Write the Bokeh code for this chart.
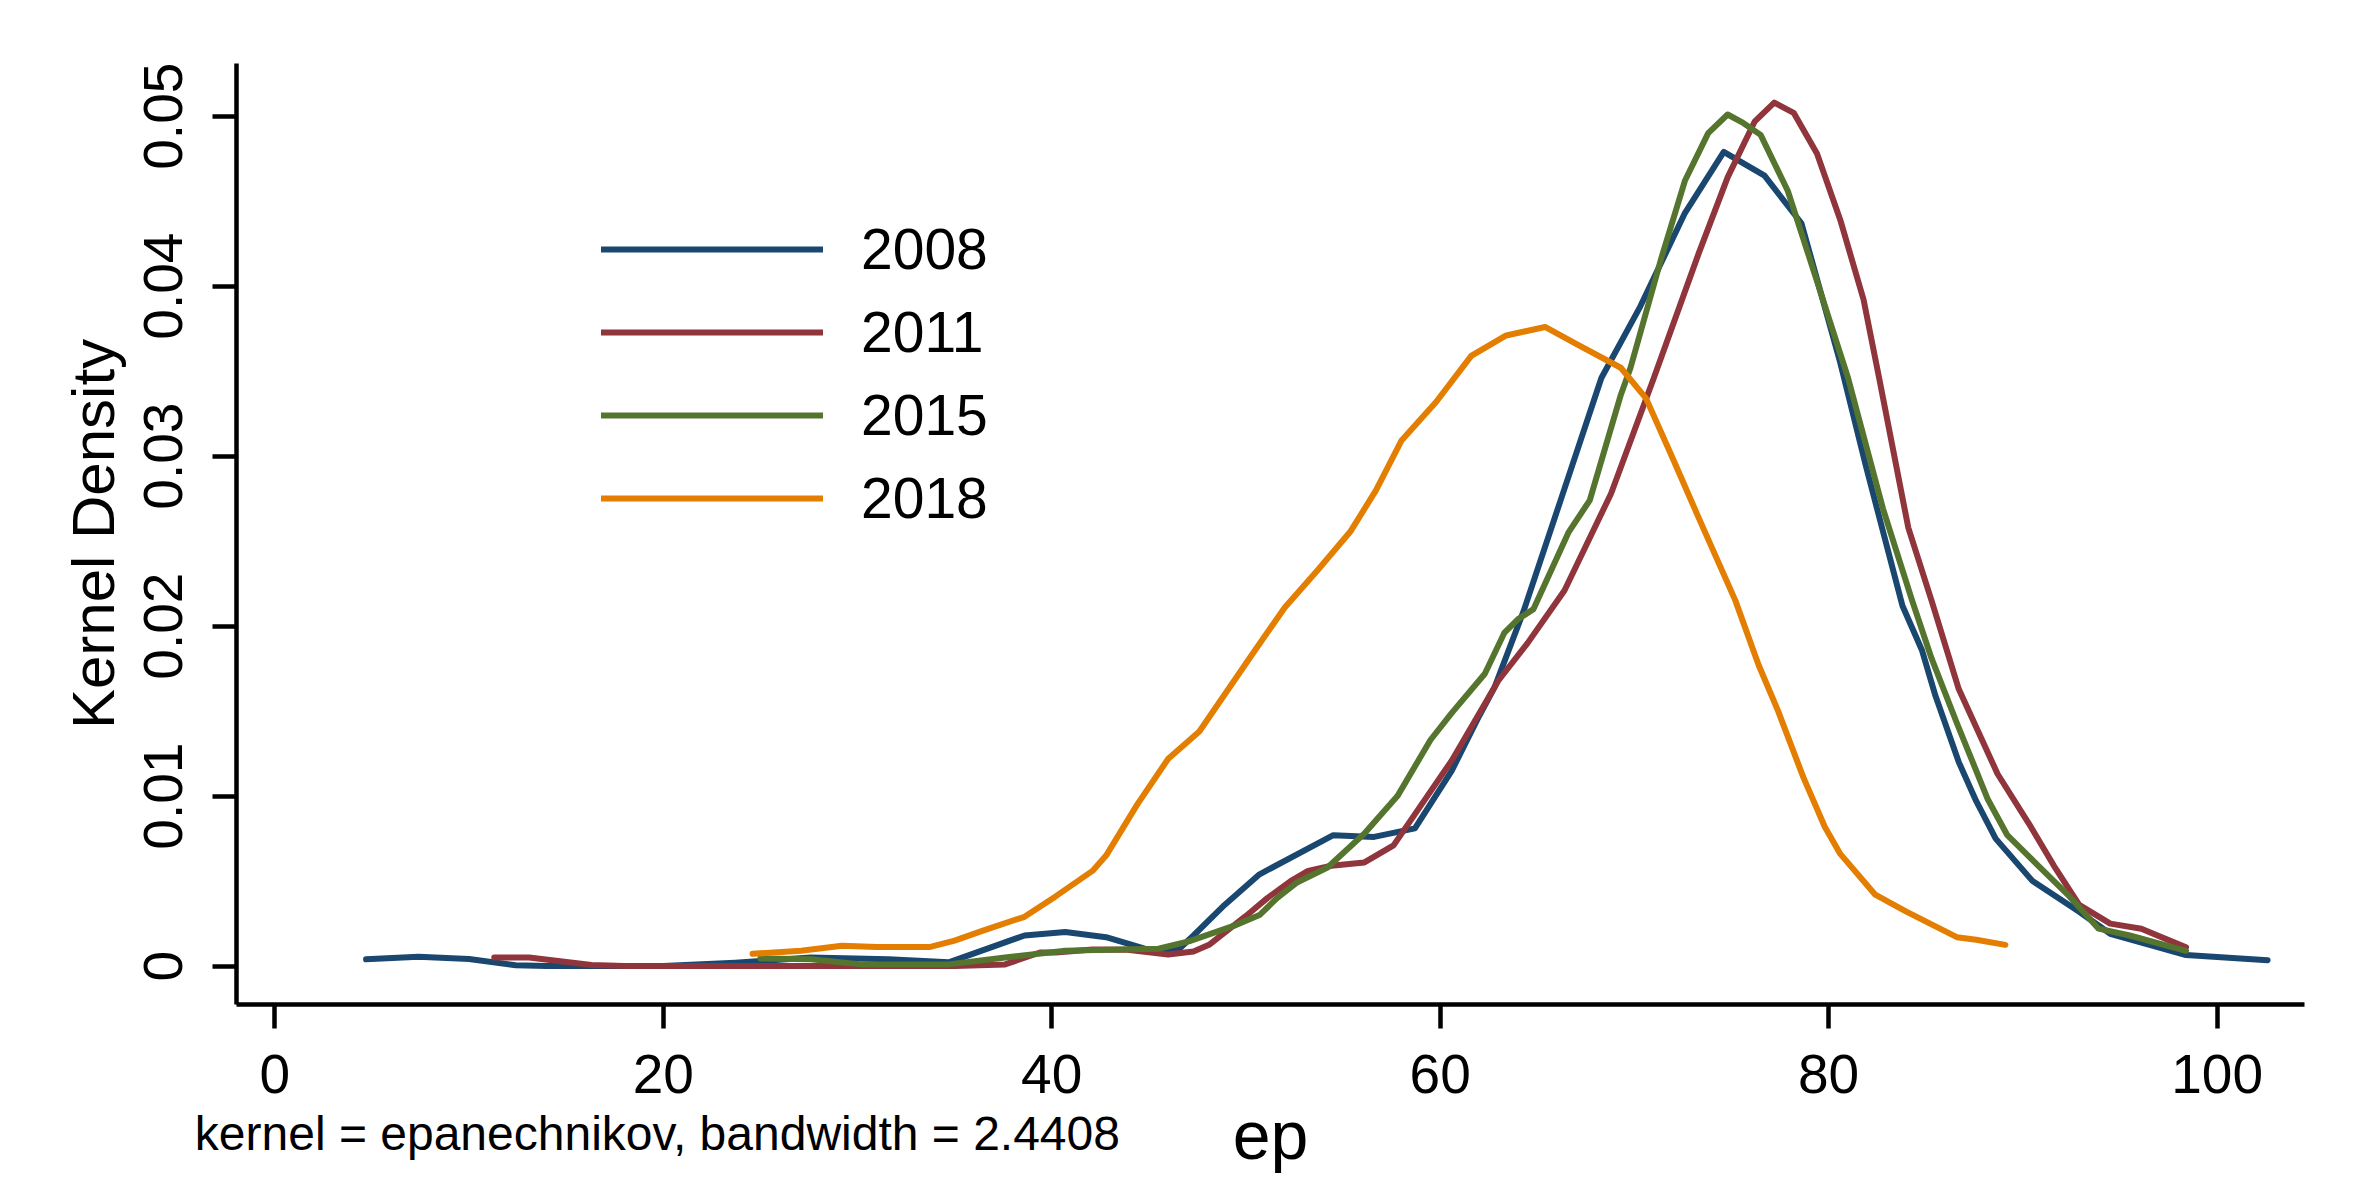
from bokeh.plotting import figure
from bokeh.models import Range1d, FixedTicker, CustomJSTickFormatter, Legend, LegendItem, LinearAxis
from bokeh.embed import file_html
from bokeh.resources import INLINE

FONT = "Liberation Sans"

years = ["2008", "2011", "2015", "2018"]
colors = ["#1a476f", "#90353b", "#55752f", "#e37e00"]

x_ticks = [0, 20, 40, 60, 80, 100]
y_ticks = [0, 0.01, 0.02, 0.03, 0.04, 0.05]
note_text = "kernel = epanechnikov, bandwidth = 2.4408"

ep_2008 = [4.7, 7.4, 10.0, 12.4, 14.0, 20.0, 23.7, 27.6, 31.6, 34.7, 38.6, 40.7, 42.8, 45.0,
           46.5, 47.3, 48.9, 50.7, 54.5, 56.6, 58.7, 60.6, 62.0, 62.8, 64.3, 66.2, 68.3,
           70.3, 72.6, 74.6, 76.7, 78.6, 80.6, 81.9, 83.8, 84.8, 85.5, 86.7, 87.6, 88.6,
           90.5, 92.9, 94.5, 98.4, 102.6]
den_2008 = [0.0004, 0.00055, 0.00042, 0.00005, 0.0, 0.0, 0.0002, 0.0005, 0.0004, 0.00022,
            0.0018, 0.0020, 0.0017, 0.00095, 0.00095, 0.0018, 0.0036, 0.0054, 0.0077, 0.0076,
            0.0081, 0.0115, 0.0147, 0.0164, 0.0209, 0.0274, 0.0346, 0.0388, 0.0443, 0.0479,
            0.0465, 0.0437, 0.0355, 0.0295, 0.0212, 0.0186, 0.0159, 0.0120, 0.0097, 0.0075,
            0.0050, 0.0032, 0.0019, 0.00065, 0.00035]

ep_2011 = [11.3, 13.1, 16.3, 18.0, 35.0, 37.6, 39.4, 40.2, 42.1, 43.9, 46.0, 47.3, 48.1,
           50.0, 51.1, 52.3, 53.2, 54.4, 56.1, 57.6, 58.5, 60.6, 63.0, 64.5, 66.4, 68.8,
           71.0, 73.3, 74.8, 76.2, 77.2, 78.2, 79.4, 80.6, 81.8, 82.6, 84.1, 85.3, 86.7,
           88.7, 90.3, 91.6, 92.9, 94.5, 96.1, 98.4]
den_2011 = [0.0005, 0.0005, 0.00006, 0.0, 0.0, 0.0001, 0.0008, 0.0008, 0.00098, 0.00096,
            0.00068, 0.00086, 0.00125, 0.00295, 0.0040, 0.0050, 0.0056, 0.0059, 0.0061,
            0.0071, 0.0086, 0.0121, 0.0168, 0.0190, 0.0221, 0.0278, 0.0346, 0.0419, 0.0464,
            0.0497, 0.0508, 0.0502, 0.0478, 0.0439, 0.0392, 0.0346, 0.0258, 0.0215, 0.0163,
            0.0113, 0.0084, 0.0059, 0.0036, 0.0025, 0.0022, 0.0011]

ep_2015 = [25.0, 27.6, 30.2, 34.7, 37.6, 40.7, 42.8, 45.5, 47.1, 49.4, 50.7, 51.6, 52.6,
           54.2, 56.1, 57.8, 59.5, 60.6, 62.3, 63.3, 64.0, 64.8, 66.6, 67.7, 69.3, 69.8,
           71.4, 72.6, 73.8, 74.8, 75.6, 76.5, 77.9, 79.4, 81.0, 82.8, 84.3, 85.3, 86.6,
           88.2, 89.2, 90.8, 92.4, 93.9, 95.5, 98.4]
den_2015 = [0.00045, 0.0004, 0.0001, 0.0001, 0.0005, 0.0009, 0.00096, 0.00102, 0.00147,
            0.00238, 0.0030, 0.0040, 0.0049, 0.0058, 0.0078, 0.0100, 0.0133, 0.0149, 0.0172,
            0.0196, 0.0204, 0.0210, 0.0255, 0.0274, 0.0336, 0.0352, 0.0417, 0.0462, 0.0490,
            0.0501, 0.0496, 0.0489, 0.0456, 0.0403, 0.0346, 0.0269, 0.0215, 0.0181, 0.0143,
            0.0098, 0.0077, 0.0059, 0.0041, 0.0022, 0.0018, 0.0009]

ep_2018 = [24.6, 27.1, 29.2, 31.0, 33.7, 35.0, 36.5, 38.6, 40.2, 42.1, 42.8, 44.4, 46.0,
           47.6, 49.4, 50.3, 52.0, 53.7, 55.4, 56.7, 58.0, 59.8, 61.6, 63.4, 65.4, 67.0,
           69.3, 70.6, 72.0, 73.3, 75.2, 76.4, 77.4, 78.7, 79.8, 80.6, 82.4, 84.0, 86.6,
           87.6, 89.1]
den_2018 = [0.00072, 0.0009, 0.0012, 0.00112, 0.00112, 0.0015, 0.0021, 0.0029, 0.0041,
            0.0056, 0.0065, 0.0095, 0.0122, 0.0138, 0.0168, 0.0183, 0.0211, 0.0233, 0.0256,
            0.0280, 0.0309, 0.0332, 0.0359, 0.0371, 0.0376, 0.0366, 0.0352, 0.0334, 0.0298,
            0.0264, 0.0215, 0.0177, 0.0150, 0.0111, 0.0082, 0.0066, 0.0042, 0.0032, 0.0017,
            0.00155, 0.00125]

series_x = [ep_2008, ep_2011, ep_2015, ep_2018]
series_y = [den_2008, den_2011, den_2015, den_2018]

p = figure(width=2352, height=1188, output_backend="svg", toolbar_location=None,
           x_range=Range1d(-1.97, 104.5), y_range=Range1d(-0.00226, 0.0531),
           min_border_left=236, min_border_right=48, min_border_top=63, min_border_bottom=184)
p.outline_line_color = None
p.xgrid.visible = False
p.ygrid.visible = False
p.background_fill_color = "white"
p.border_fill_color = "white"

renderers = []
for xs, ys, c in zip(series_x, series_y, colors):
    r = p.line(xs, ys, line_color=c, line_width=6, line_join="round", line_cap="round")
    renderers.append(r)

for ax in (p.xaxis[0], p.yaxis[0]):
    ax.axis_line_width = 4.5
    ax.axis_line_color = "black"
    ax.major_tick_line_width = 4.5
    ax.major_tick_line_color = "black"
    ax.major_tick_out = 24
    ax.major_tick_in = 0
    ax.minor_tick_line_color = None
    ax.major_label_text_font = FONT
    ax.major_label_text_font_size = "55px"
    ax.major_label_text_color = "black"
    ax.axis_label_text_font = FONT
    ax.axis_label_text_font_style = "normal"
    ax.axis_label_text_color = "black"

p.xaxis.ticker = FixedTicker(ticks=x_ticks)
p.xaxis.major_label_standoff = 26

# second (label-only) axis carrying the note and the "ep" title on one line
ax2 = LinearAxis(ticker=FixedTicker(ticks=[19.7]),
                 major_label_overrides={19.7: note_text},
                 axis_line_color=None, major_tick_line_color=None, minor_tick_line_color=None,
                 major_tick_out=0, major_tick_in=0, major_label_standoff=11,
                 major_label_text_font=FONT, major_label_text_font_size="48px",
                 major_label_text_color="black",
                 axis_label="ep", axis_label_text_font=FONT, axis_label_text_font_size="68px",
                 axis_label_text_font_style="normal", axis_label_text_color="black",
                 axis_label_standoff=-66)
p.add_layout(ax2, "below")

p.yaxis.ticker = FixedTicker(ticks=y_ticks)
p.yaxis.formatter = CustomJSTickFormatter(code="return tick == 0 ? '0' : tick.toFixed(2);")
p.yaxis.major_label_orientation = "vertical"
p.yaxis.major_label_standoff = 30
p.yaxis.axis_label = "Kernel Density"
p.yaxis.axis_label_text_font_size = "60px"
p.yaxis.axis_label_standoff = 15

legend = Legend(items=[LegendItem(label=y, renderers=[r]) for y, r in zip(years, renderers)],
                location=(365, 473), orientation="vertical",
                glyph_width=222, glyph_height=66, label_height=66, label_standoff=38,
                spacing=17, padding=0, margin=0,
                label_text_font=FONT, label_text_font_size="57px", label_text_color="black",
                border_line_color=None, background_fill_alpha=0)
p.add_layout(legend, "center")

open("out.html", "w").write(file_html(p, INLINE))
